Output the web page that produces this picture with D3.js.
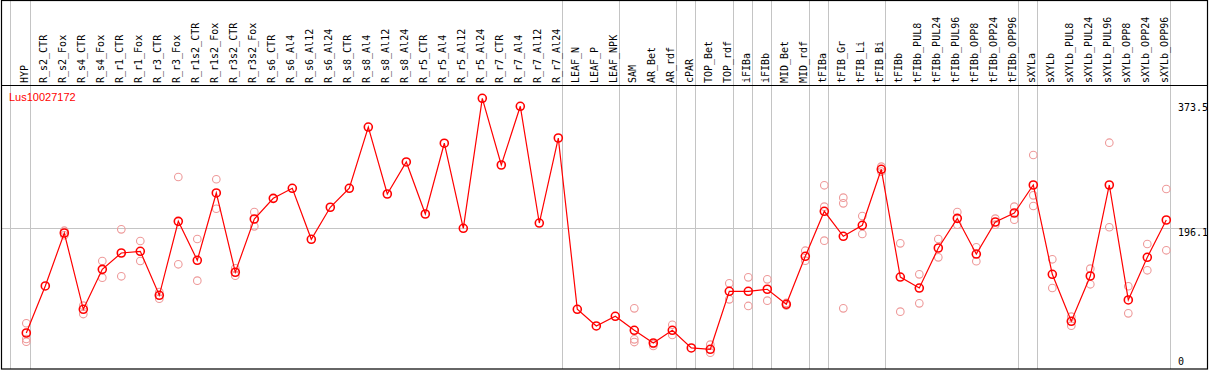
<!DOCTYPE html>
<html><head><meta charset="utf-8">
<script src="https://cdn.jsdelivr.net/npm/d3@7"></script>
<style>html,body{margin:0;padding:0;background:#fff;overflow:hidden}</style>
</head><body>
<script>
const categories = ["HYP","R_s2_CTR","R_s2_Fox","R_s4_CTR","R_s4_Fox","R_r1_CTR","R_r1_Fox","R_r3_CTR","R_r3_Fox","R_r1s2_CTR","R_r1s2_Fox","R_r3s2_CTR","R_r3s2_Fox","R_s6_CTR","R_s6_Al4","R_s6_Al12","R_s6_Al24","R_s8_CTR","R_s8_Al4","R_s8_Al12","R_s8_Al24","R_r5_CTR","R_r5_Al4","R_r5_Al12","R_r5_Al24","R_r7_CTR","R_r7_Al4","R_r7_Al12","R_r7_Al24","LEAF_N","LEAF_P","LEAF_NPK","SAM","AR_Bet","AR_rdf","cPAR","TOP_Bet","TOP_rdf","iFIBa","iFIBb","MID_Bet","MID_rdf","tFIBa","tFIB_Gr","tFIB_Li","tFIB_Bi","tFIBb","tFIBb_PUL8","tFIBb_PUL24","tFIBb_PUL96","tFIBb_OPP8","tFIBb_OPP24","tFIBb_OPP96","sXYLa","sXYLb","sXYLb_PUL8","sXYLb_PUL24","sXYLb_PUL96","sXYLb_OPP8","sXYLb_OPP24","sXYLb_OPP96"];

const means = [53.2,117.4,189.7,85.6,140.1,162.4,164.7,104.7,205.6,152.4,244.3,136.1,208.8,237.0,250.7,181.1,224.8,250.7,334.3,242.9,286.6,215.6,312.2,196.1,373.5,282.5,362.6,203.3,319.3,85.6,62.8,76.0,56.9,39.6,56.9,32.8,31.0,110.1,110.1,112.9,92.4,157.9,219.3,185.2,200.2,276.6,129.6,114.6,169.2,209.7,161.0,204.7,217.0,255.2,133.3,69.2,131.0,255.2,98.3,156.5,207.4];

const replicates = [
  [66.5,45.0,41.3],[],[192.8,186.6],[90.5,79.1],[151.5,128.7],[194.7,130.6],[178.8,151.5],[100.0,109.2],[266.1,147.0],[181.5,124.6],[263.0,222.8],[141.5,131.4],[218.3,198.8],
  [],[],[],[],[],[],[],[],[],[],[],[],[],[],[],[],
  [],[],[],[86.9,44.6,40.9],[38.2,35.5],[64.5,50.5],[],[37.3,26.3],[121.0,99.2],[129.2,90.1],[126.5,97.3],[94.2,90.7],[165.5,151.9],
  [254.8,225.6,179.2],[237.9,230.2,86.9],[212.9,188.3],[280.2,273.5],[175.6,82.3],[133.3,93.7],[181.5,156.5],[218.3,201.0],[170.2,151.1],[209.2,201.0],[225.6,207.8],
  [296.1,241.1,226.5],[153.8,114.6],[75.5,63.2],[141.0,119.7],[312.9,197.5],[117.0,80.1],[174.7,138.8],[249.7,166.1]
];

const groupEnds = [0,28,31,34,35,37,38,39,41,42,45,52,53,60];
const yTicks = [373.5, 196.1, 0];
const geneLabel = "Lus10027172";

const W = 1209, H = 370;
const svg = d3.select("body").append("svg").attr("width", W).attr("height", H);

const x = d3.scaleLinear().domain([0, categories.length - 1]).range([26.3, 26.3 + 19 * 60]);
const y = d3.scaleLinear().domain([0, 373.5]).range([372, 98.3]);

// grid lines
const gridX = [x(0) - 16.3].concat(groupEnds.map(i => x(i) + 4));
svg.selectAll("line.vg").data(gridX).enter().append("line")
  .attr("x1", d => Math.round(d) + 0.5).attr("x2", d => Math.round(d) + 0.5)
  .attr("y1", 0).attr("y2", 369).attr("stroke", "#c4c4c4").attr("stroke-width", 1);
svg.append("line").attr("x1", 2).attr("x2", 1208)
  .attr("y1", Math.round(y(196.1)) + 0.5).attr("y2", Math.round(y(196.1)) + 0.5)
  .attr("stroke", "#c4c4c4");

// frame
svg.append("rect").attr("x", 1.5).attr("y", 0.5).attr("width", 1206).attr("height", 368.5)
  .attr("fill", "none").attr("stroke", "#000").attr("stroke-width", 1.2);
svg.append("line").attr("x1", 1).attr("x2", 1208).attr("y1", 85.5).attr("y2", 85.5).attr("stroke", "#000");

// header labels
svg.selectAll("text.cat").data(categories).enter().append("text")
  .attr("transform", (d, i) => `translate(${x(i) + 1.5},83) rotate(-90)`)
  .attr("text-anchor", "start")
  .attr("font-family", "DejaVu Sans Mono, monospace").attr("font-size", 10)
  .attr("fill", "#000").text(d => d);

// gene label
svg.append("text").attr("x", 9).attr("y", 101).attr("fill", "#ff0000")
  .attr("font-family", "Liberation Sans, Arial, sans-serif").attr("font-size", 11).text(geneLabel);

// y axis labels
svg.selectAll("text.yt").data(yTicks).enter().append("text")
  .attr("x", 1178).attr("y", d => Math.max(111, Math.min(365, y(d) + 8)))
  .attr("font-family", "DejaVu Sans Mono, monospace").attr("font-size", 10)
  .attr("fill", "#000").text(d => d);

// replicates
const reps = [];
replicates.forEach((arr, i) => arr.forEach(v => reps.push({i, v})));
svg.selectAll("circle.rep").data(reps).enter().append("circle")
  .attr("cx", d => x(d.i)).attr("cy", d => y(d.v)).attr("r", 3.8)
  .attr("fill", "none").attr("stroke", "#ee9a9a").attr("stroke-width", 1.1);

// line
const line = d3.line().x((d, i) => x(i)).y(d => y(d));
svg.append("path").datum(means).attr("d", line).attr("fill", "none")
  .attr("stroke", "#ff0000").attr("stroke-width", 1.2);

// mean markers
svg.selectAll("circle.m").data(means).enter().append("circle")
  .attr("cx", (d, i) => x(i)).attr("cy", d => y(d)).attr("r", 4)
  .attr("fill", "none").attr("stroke", "#ff0000").attr("stroke-width", 1.6);
</script>
</body></html>
